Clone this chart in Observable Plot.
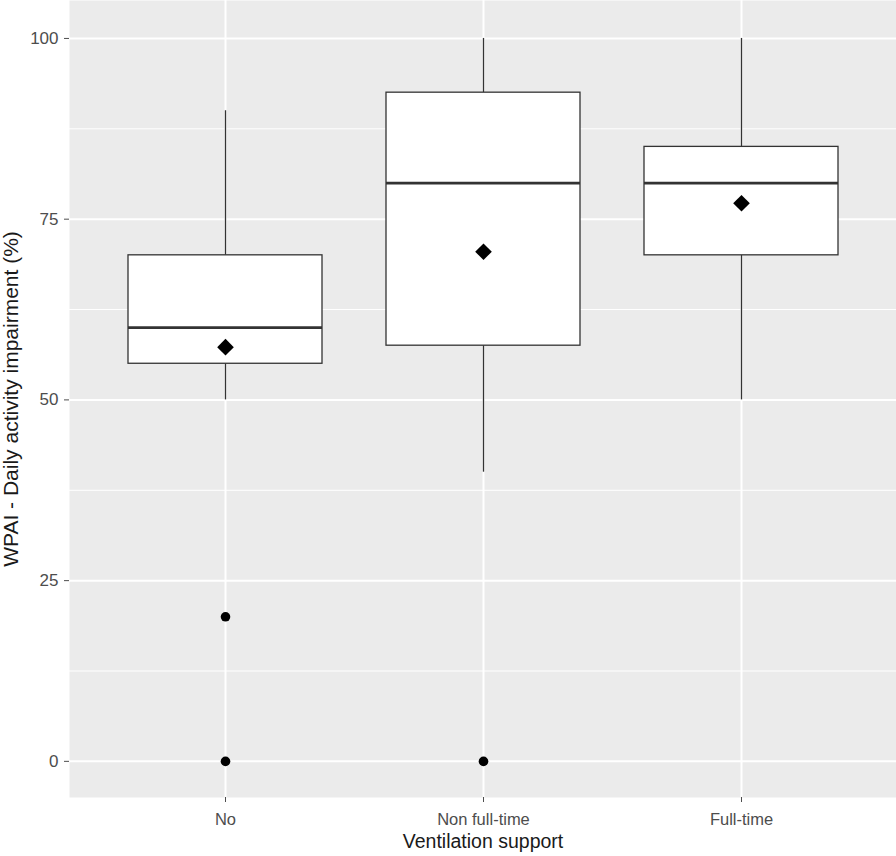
<!DOCTYPE html>
<html>
<head>
<meta charset="utf-8">
<script src="https://cdn.jsdelivr.net/npm/d3@7"></script>
<script src="https://cdn.jsdelivr.net/npm/@observablehq/plot@0.6"></script>
<style>
  html, body { margin: 0; padding: 0; background: #ffffff; }
  #chart svg { display: block; }
</style>
</head>
<body>
<div id="chart"></div>
<script>
// ---- data ----
const categories = ["No", "Non full-time", "Full-time"];
const whiskerLow = [50, 40, 50];
const q1 = [55, 57.5, 70];
const median = [60, 80, 80];
const q3 = [70, 92.5, 85];
const whiskerHigh = [90, 100, 100];
const means = [57.3, 70.5, 77.2];
const outlierGroup = ["No", "No", "Non full-time"];
const outlierValue = [20, 0, 0];
const majorTicks = [0, 25, 50, 75, 100];
const minorTicks = [12.5, 37.5, 62.5, 87.5];
const xTitle = "Ventilation support";
const yTitle = "WPAI - Daily activity impairment (%)";

const boxes = categories.map((c, i) => ({
  cat: c, lo: whiskerLow[i], q1: q1[i], med: median[i], q3: q3[i], hi: whiskerHigh[i], mean: means[i]
}));
const outliers = outlierGroup.map((c, i) => ({cat: c, v: outlierValue[i]}));

const font = "'Liberation Sans', Arial, sans-serif";

const chart = Plot.plot({
  width: 896,
  height: 856,
  marginLeft: 69,
  marginRight: 0,
  marginTop: 0,
  marginBottom: 59,
  style: {fontFamily: font, background: "#ffffff"},
  x: {type: "band", domain: categories, paddingInner: 0.25, paddingOuter: 0.225},
  y: {domain: [-5, 105.25]},
  marks: [
    Plot.frame({fill: "#ebebeb", stroke: null}),
    Plot.gridY({ticks: minorTicks, stroke: "#ffffff", strokeOpacity: 1, strokeWidth: 1}),
    Plot.gridY({ticks: majorTicks, stroke: "#ffffff", strokeOpacity: 1, strokeWidth: 2}),
    Plot.gridX({stroke: "#ffffff", strokeOpacity: 1, strokeWidth: 2}),
    Plot.ruleX(boxes, {x: "cat", y1: "q3", y2: "hi", stroke: "#333333", strokeWidth: 1.3}),
    Plot.ruleX(boxes, {x: "cat", y1: "lo", y2: "q1", stroke: "#333333", strokeWidth: 1.3}),
    Plot.barY(boxes, {x: "cat", y1: "q1", y2: "q3", fill: "#ffffff", stroke: "#333333", strokeWidth: 1.3}),
    Plot.tickY(boxes, {x: "cat", y: "med", stroke: "#333333", strokeWidth: 2.8}),
    Plot.dot(outliers, {x: "cat", y: "v", r: 4.8, fill: "#000000", stroke: null}),
    Plot.dot(boxes, {x: "cat", y: "mean", r: 7.5, symbol: "diamond2", fill: "#000000", stroke: null}),
    Plot.axisY({ticks: majorTicks, tickSize: 5, tickPadding: 6, fontSize: 17, color: "#4d4d4d", label: null}),
    Plot.axisX({tickSize: 5, tickPadding: 11, fontSize: 16.5, color: "#4d4d4d", label: null}),
    Plot.text([xTitle], {frameAnchor: "bottom", textAnchor: "middle", lineAnchor: "middle", dy: 44.5, fontSize: 19.5, fill: "#1a1a1a"}),
    Plot.text([yTitle], {frameAnchor: "left", textAnchor: "middle", lineAnchor: "middle", rotate: -90, dx: -58, fontSize: 21, fill: "#1a1a1a"})
  ]
});
document.getElementById("chart").appendChild(chart);
</script>
</body>
</html>
